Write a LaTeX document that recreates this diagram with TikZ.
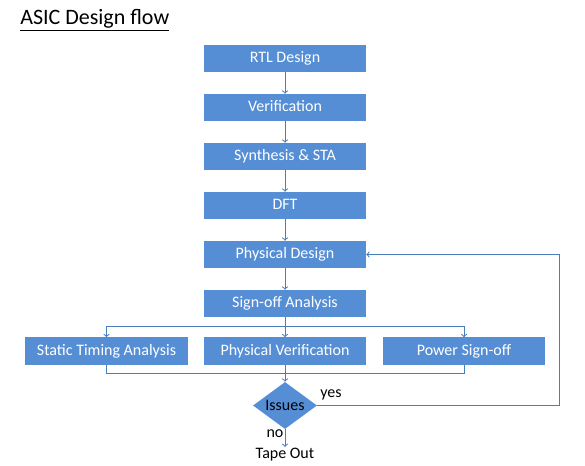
\documentclass[tikz,border=0pt]{standalone}
\usepackage{fontspec}
\setmainfont{Carlito}
\usetikzlibrary{shapes.geometric}
\definecolor{boxblue}{RGB}{85,142,213}
\definecolor{lineblue}{RGB}{74,126,187}

\begin{document}
\begin{tikzpicture}[x=0.75pt,y=-0.75pt,
    stage/.style={fill=boxblue,text=white,minimum width=121.5pt,minimum height=20.25pt,inner sep=0pt,text height=0.6em,text depth=0pt,font=\fontsize{12}{14}\selectfont},
    decide/.style={diamond,fill=boxblue,aspect=1.36,minimum width=48pt,minimum height=35.25pt,inner sep=0pt,font=\fontsize{12}{14}\selectfont},
    plain/.style={inner sep=1pt,font=\fontsize{12}{14}\selectfont},
    flow/.style={lineblue,line width=0.75pt,->},
    wire/.style={lineblue,line width=0.75pt}
]
    \useasboundingbox (0,0) rectangle (585,466);

    \node [anchor=base west,inner sep=0pt,font=\fontsize{16.5}{19}\selectfont] (title) at (20,25) {\underline{ASIC Design flow}};

    % main column
    \node [stage] (rtl) at (285,58.5) {RTL Design};
    \node [stage] (verif) at (285,107.5) {Verification};
    \node [stage] (synth) at (285,156.5) {Synthesis \& STA};
    \node [stage] (dft) at (285,205.5) {DFT};
    \node [stage] (pd) at (285,254.5) {Physical Design};
    \node [stage] (signoff) at (285,303.5) {Sign-off Analysis};

    % sign-off checks
    \node [stage,minimum width=122.25pt] (sta) at (106.5,351) {Static Timing Analysis};
    \node [stage] (pv) at (285,351) {Physical Verification};
    \node [stage] (pso) at (464,351) {Power Sign-off};

    \node [decide] (issues) at (285,405.5) {Issues};
    \node [plain] (tape) at (285,455) {Tape Out};
    \node [plain] (no) at (275,434) {no};
    \node [plain] (yes) at (331,395) {yes};

    \coordinate (split) at (285,327);
    \coordinate (merge) at (285,373);
    \coordinate (loop) at (559,405.5);

    \draw [flow] (rtl) -- (verif);
    \draw [flow] (verif) -- (synth);
    \draw [flow] (synth) -- (dft);
    \draw [flow] (dft) -- (pd);
    \draw [flow] (pd) -- (signoff);

    \draw [flow] (signoff) -- (pv);
    \draw [flow] (split) -| (sta);
    \draw [flow] (split) -| (pso);

    \draw [wire] (sta) |- (merge);
    \draw [wire] (pso) |- (merge);
    \draw [flow] (pv) -- (issues);

    \draw [flow] (issues) -- (tape);
    \draw [flow] (issues.east) -- (loop) |- (pd.east);
\end{tikzpicture}
\end{document}
